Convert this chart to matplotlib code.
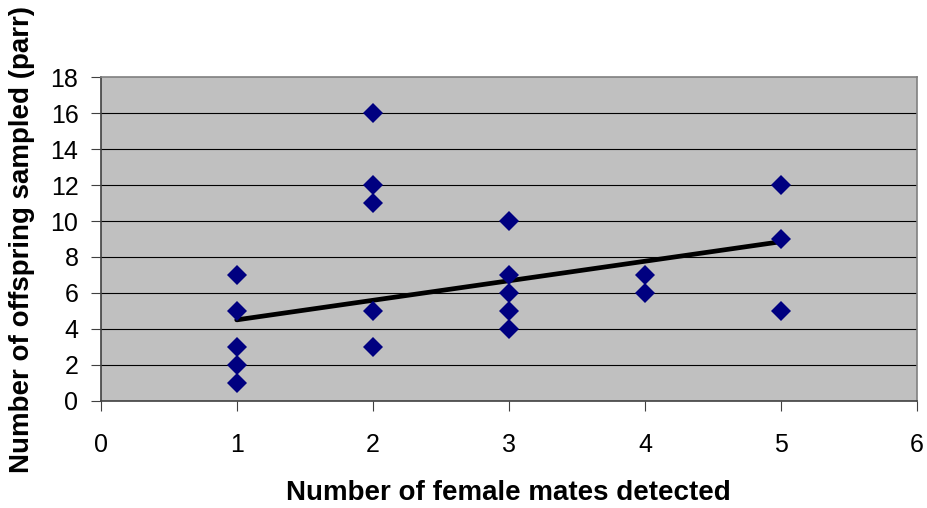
import matplotlib
matplotlib.use("Agg")
import matplotlib.pyplot as plt

plt.rcParams['font.family'] = ['Liberation Sans', 'DejaVu Sans']

# number of female mates detected per male, and offspring (parr) sampled
mates = [1, 1, 1, 1, 1, 2, 2, 2, 2, 2, 3, 3, 3, 3, 3, 4, 4, 5, 5, 5]
offspring = [7, 5, 3, 2, 1, 16, 12, 11, 5, 3, 10, 7, 6, 5, 4, 7, 6, 12, 9, 5]

# linear trend line endpoints
trend_x = [1, 5]
trend_y = [4.5, 8.85]

x_ticks = [0, 1, 2, 3, 4, 5, 6]
y_ticks = [0, 2, 4, 6, 8, 10, 12, 14, 16, 18]

fig = plt.figure(figsize=(9.27, 5.08), dpi=100)
ax = fig.add_axes([0.1086, 0.2112, 0.8806, 0.6366])
ax.set_facecolor('#C0C0C0')

for v in y_ticks[1:-1]:
    ax.axhline(v, color='black', linewidth=0.8, zorder=1)

ax.plot(trend_x, trend_y, color='black', linewidth=3.4, zorder=2,
        solid_capstyle='round')
ax.plot(mates, offspring, linestyle='none', marker='D', markersize=10.5,
        color='#000080', markeredgewidth=0, zorder=3)

ax.set_xlim(0, 6)
ax.set_ylim(0, 18)
ax.set_xticks(x_ticks)
ax.set_yticks(y_ticks)

for s in ax.spines.values():
    s.set_color('#808080')
    s.set_linewidth(1.2)
ax.spines['left'].set_color('#404040')
ax.spines['bottom'].set_color('#404040')

ax.tick_params(axis='both', direction='out', length=7, width=0.8,
               color='#404040', labelsize=18)
ax.tick_params(axis='y', pad=9)
ax.tick_params(axis='x', pad=16)

ax.set_xlabel('Number of female mates detected', fontsize=20,
              fontweight='bold', labelpad=17)
ax.set_ylabel('Number of offspring sampled (parr)', fontsize=20,
              fontweight='bold', labelpad=11)

fig.savefig('out.png', dpi=100)
